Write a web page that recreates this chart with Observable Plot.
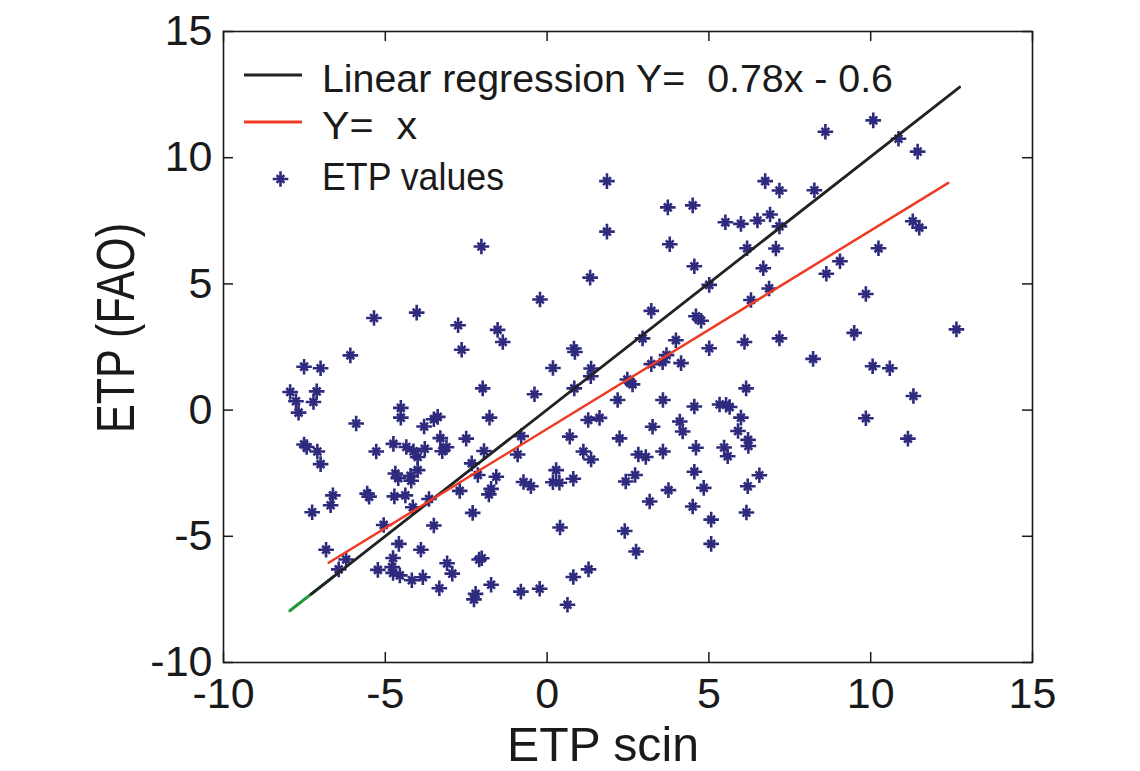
<!DOCTYPE html>
<html>
<head>
<meta charset="utf-8">
<script src="https://cdn.jsdelivr.net/npm/d3@7"></script>
<script src="https://cdn.jsdelivr.net/npm/@observablehq/plot@0.6"></script>
<style>
  html, body { margin: 0; padding: 0; background: #ffffff; }
  svg { display: block; }
</style>
</head>
<body>
<div id="chart"></div>
<script>
// ---- Data ----
const xTicks = [-10, -5, 0, 5, 10, 15];
const yTicks = [-10, -5, 0, 5, 10, 15];

const etpScin = [
  8.6, 10.08, 10.86, 11.45, 1.85, 6.74, 7.18, 8.26, 3.73, 4.5,
  5.51, 5.99, 6.5, 6.89, 7.18, 1.85, 11.3, 11.5, -2.03, 3.79,
  6.18, 7.07, 10.24, 9.05, 8.63, 4.55, 6.68, 1.33, 9.85, 6.86,
  6.3, -0.22, 5.01, -5.35, -4.03, -2.75, -1.53, -1.37, -2.64, 3.22,
  4.6, 4.76, 12.65, 9.49, 2.95, 3.98, 6.1, 7.18, 5.01, 0.83,
  0.86, -6.08, 8.22, -7.51, -7.0, 0.18, 1.36, 3.22, 3.57, 3.69,
  4.14, 10.06, 10.59, 1.35, 2.48, 2.64, 0.84, -1.99, -0.39, -7.94,
  -7.12, -7.76, -7.22, -7.68, 2.18, 3.58, 6.15, 11.32, -4.52, -4.52,
  -5.9, -3.5, -3.38, -3.8, -1.78, 4.55, 5.33, 5.53, 5.64, 5.99,
  9.85, 1.27, 1.62, 4.1, 3.26, 4.19, 5.9, 0.7, 2.24, -0.8,
  -2.5, -3.3, 6.21, 11.15, 6.22, -7.51, -7.43, -7.1, -7.0, -5.28,
  -4.75, -4.35, -4.13, -4.0, -3.78, -3.24, -3.11, -1.95, -0.91, 1.12,
  1.36, 2.82, 3.05, 3.58, 4.6, 5.47, 5.58, -4.0, -4.69, -4.6,
  -4.2, -4.22, -2.33, -2.14, -1.57, 0.28, 0.18, 0.38, 0.81, -0.73,
  -0.5, 2.43, 2.72, 4.55, 6.56, 4.84, 6.2, 3.75, 3.17, 4.5,
  6.16, 5.07, 5.07, 2.4, 2.75, 0.4, -1.73, -1.8, -2.7, -3.65,
  -4.15, -5.56, -5.5, -4.72, -4.38, -6.62, -6.69, -7.26, -5.05, -3.5,
  -2.3, -4.58, -3.9, -6.83, -4.76, -4.79, -6.21, -6.44, -5.23, -4.76,
  -4.55, -4.18, -3.84, -3.09, -2.93, -2.1, -2.02, -3.33, -2.21, -2.26,
  -1.73, -0.81, -0.23, 0.63, 0.81, 1.28
];
const etpFao = [
  11.03, 11.48, 10.75, 10.24, 9.07, 9.07, 8.7, 8.71, 8.03, 8.11,
  7.44, 7.38, 7.51, 7.75, 7.28, 7.07, 7.48, 7.23, 6.48, 6.57,
  6.41, 6.4, 6.41, 5.9, 5.4, 5.7, 5.62, 5.25, 4.6, 4.82,
  4.36, 4.38, 4.96, 3.65, 3.86, 3.36, 3.18, 2.7, 2.39, 3.93,
  3.72, 3.54, 3.2, 3.06, 2.84, 2.77, 2.7, 2.84, 2.45, 2.44,
  2.3, 2.17, 2.03, 1.72, 1.66, 1.67, 1.65, 1.82, 1.9, 2.18,
  1.86, 1.74, 1.66, 1.34, 1.21, 1.02, 0.86, 0.86, 0.63, 0.72,
  0.74, 0.35, 0.32, -0.1, 0.4, 0.4, 0.86, 0.56, 0.09, -0.3,
  -0.53, -0.36, -0.27, -0.65, -0.3, 0.14, 0.22, 0.21, 0.12, -0.3,
  -0.32, -0.39, -0.31, -0.45, -0.66, -0.85, -0.83, -1.05, -1.12, -1.03,
  -1.13, -1.11, -1.18, -1.13, -1.42, -1.36, -1.46, -1.64, -2.14, -1.64,
  -1.34, -1.46, -1.63, -1.86, -1.53, -1.63, -1.47, -1.62, -1.76, -1.64,
  -1.96, -1.76, -1.86, -1.64, -1.49, -1.48, -1.83, -2.38, -2.51, -2.7,
  -2.8, -2.6, -2.11, -2.57, -2.64, -2.38, -2.86, -2.88, -2.72, -2.85,
  -3.02, -2.83, -2.57, -2.44, -2.58, -3.08, -3.02, -3.17, -3.62, -3.82,
  -4.06, -4.34, -5.3, -4.79, -5.6, -4.65, -3.12, -3.34, -3.2, -3.52,
  -3.85, -3.31, -3.43, -3.42, -3.38, -3.38, -3.77, -4.05, -4.55, -4.57,
  -4.07, -5.3, -5.53, -5.53, -5.86, -6.22, -5.92, -6.31, -6.33, -6.45,
  -6.55, -6.74, -6.62, -6.07, -6.48, -5.92, -5.87, -7.06, -7.28, -7.5,
  -6.92, -7.19, -7.08, -7.71, -6.61, -6.31
];

// Line end points
const blackLineX = [-7.3, 12.75];
const blackLineY = [-7.3, 12.8];
const greenLineX = [-7.95, -6.6];
const greenLineY = [-7.95, -6.6];
const redLineX = [-6.75, 12.4];
const redLineY = [-6.05, 9.0];

const legendLabels = ["Linear regression Y=  0.78x - 0.6", "Y=  x", "ETP values"];
const xLabel = "ETP scin";
const yLabel = "ETP (FAO)";

// ---- Build tables ----
const points = etpScin.map((x, i) => ({x, y: etpFao[i]}));
const toLine = (xs, ys) => xs.map((x, i) => ({x, y: ys[i]}));
const blackLine = toLine(blackLineX, blackLineY);
const greenLine = toLine(greenLineX, greenLineY);
const redLine = toLine(redLineX, redLineY);

// MATLAB-like '*' marker
const starSymbol = {
  draw(ctx, size) {
    const r = Math.sqrt(size / Math.PI);
    const d = r * 0.5;
    ctx.moveTo(-r, 0); ctx.lineTo(r, 0);
    ctx.moveTo(0, -r); ctx.lineTo(0, r);
    ctx.moveTo(-d, -d); ctx.lineTo(d, d);
    ctx.moveTo(-d, d); ctx.lineTo(d, -d);
  }
};

const STAR = "#2e2a7e";
const RED = "#ef3b24";
const INK = "#1a1a1a";
const FONT = "'Liberation Sans', Arial, Helvetica, sans-serif";

const W = 1140, H = 771;
const mL = 223, mR = 108, mT = 31, mB = 109;
const innerW = W - mL - mR, innerH = H - mT - mB;
const tickLen = 10;
const STAR_R = 7.8;

const chart = Plot.plot({
  width: W,
  height: H,
  marginLeft: mL,
  marginRight: mR,
  marginTop: mT,
  marginBottom: mB,
  x: {domain: [-10, 15]},
  y: {domain: [-10, 15]},
  style: {fontFamily: FONT, fontSize: "43px", background: "#ffffff", color: INK},
  marks: [
    // inward ticks on all four sides
    Plot.ruleX(xTicks, {x: d => d, insetTop: innerH - tickLen, stroke: INK, strokeWidth: 1.5}),
    Plot.ruleX(xTicks, {x: d => d, insetBottom: innerH - tickLen, stroke: INK, strokeWidth: 1.5}),
    Plot.ruleY(yTicks, {y: d => d, insetRight: innerW - tickLen, stroke: INK, strokeWidth: 1.5}),
    Plot.ruleY(yTicks, {y: d => d, insetLeft: innerW - tickLen, stroke: INK, strokeWidth: 1.5}),
    Plot.axisX({ticks: xTicks, anchor: "bottom", tickSize: 0, tickPadding: 15, label: null, fontSize: 43, tickFormat: d => String(d)}),
    Plot.axisY({ticks: yTicks, anchor: "left", tickSize: 0, tickPadding: 11, label: null, fontSize: 43, tickFormat: d => String(d)}),
    // data
    Plot.dot(points, {x: "x", y: "y", symbol: starSymbol, r: STAR_R, stroke: STAR, strokeWidth: 2.6, fill: "none"}),
    Plot.line(greenLine, {x: "x", y: "y", stroke: "#1f9a3a", strokeWidth: 3}),
    Plot.line(blackLine, {x: "x", y: "y", stroke: "#222222", strokeWidth: 2.8}),
    Plot.line(redLine, {x: "x", y: "y", stroke: RED, strokeWidth: 2.5}),
    Plot.frame({stroke: INK, strokeWidth: 1.6})
  ]
});

document.getElementById("chart").appendChild(chart);
const svg = d3.select(chart);

// ---- Axis titles ----
const titles = svg.append("g").attr("class", "axis-titles")
  .attr("font-family", FONT).attr("fill", INK).attr("text-anchor", "start");
titles.append("text")
  .attr("x", 507).attr("y", 760.5)
  .attr("font-size", 48)
  .attr("textLength", 192).attr("lengthAdjust", "spacingAndGlyphs")
  .text(xLabel);
titles.append("text")
  .attr("transform", "translate(134,433) rotate(-90)")
  .attr("x", 0).attr("y", 0)
  .attr("font-size", 54)
  .attr("textLength", 210).attr("lengthAdjust", "spacingAndGlyphs")
  .text(yLabel);

// ---- Legend (top-left inside the frame) ----
const lg = svg.append("g").attr("class", "legend")
  .attr("font-family", FONT).attr("fill", INK).attr("text-anchor", "start");
const rows = [
  {kind: "line", color: "#222222", y: 75, baseline: 92, width: 571},
  {kind: "line", color: RED, y: 122, baseline: 139, width: 95},
  {kind: "star", color: STAR, y: 179, baseline: 190, width: 182}
];
rows.forEach((r, i) => {
  if (r.kind === "line") {
    lg.append("line").attr("x1", 244).attr("x2", 302).attr("y1", r.y).attr("y2", r.y)
      .attr("stroke", r.color).attr("stroke-width", 3.2);
  } else {
    const p = d3.path();
    starSymbol.draw(p, STAR_R * STAR_R * Math.PI);
    lg.append("path").attr("d", p.toString()).attr("transform", `translate(280.5,${r.y})`)
      .attr("fill", "none").attr("stroke", r.color).attr("stroke-width", 2.6);
  }
  lg.append("text").attr("x", 322).attr("y", r.baseline)
    .attr("text-anchor", "start")
    .attr("font-size", 39).style("white-space", "pre")
    .attr("textLength", r.width).attr("lengthAdjust", "spacingAndGlyphs")
    .text(legendLabels[i]);
});
</script>
</body>
</html>
